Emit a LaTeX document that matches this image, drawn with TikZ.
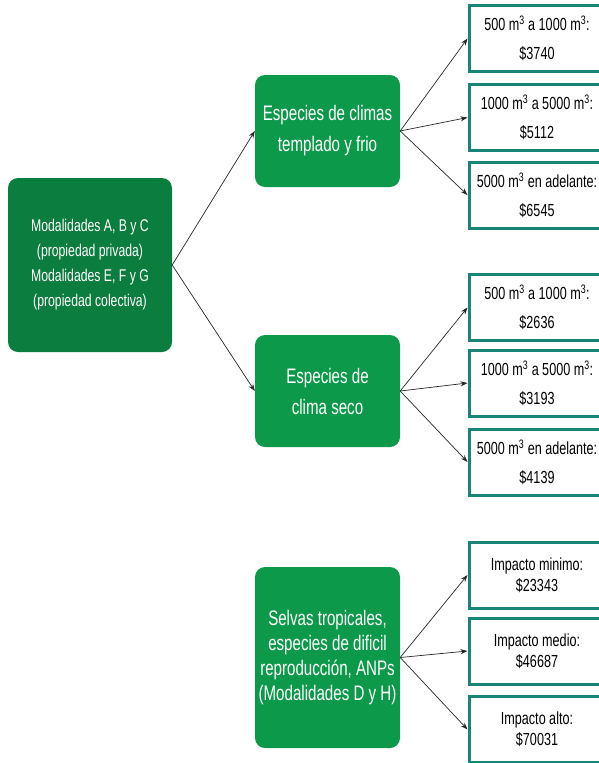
\documentclass[tikz,border=0pt]{standalone}
\usepackage{fontspec}
\setmainfont[FakeStretch=0.72]{Liberation Sans}
\usetikzlibrary{arrows.meta}

\definecolor{rootgreen}{HTML}{0B7D3E}
\definecolor{midgreen}{HTML}{0C9A4A}
\definecolor{leafteal}{HTML}{1A8478}

\newcommand{\mcub}{m\textsuperscript{3}}

\begin{document}
\begin{tikzpicture}[x=1pt, y=-1pt,
        rootbox/.style={fill=rootgreen, rounded corners=10pt, text=white, align=center,
            minimum width=164pt, minimum height=174pt, font=\fontsize{17}{25}\selectfont},
        midbox/.style={fill=midgreen, rounded corners=10pt, text=white, align=center,
            minimum width=145pt, font=\fontsize{21}{31}\selectfont},
        leafbox/.style={draw=leafteal, line width=3pt, fill=white, align=center,
            minimum width=136pt, minimum height=66pt, font=\fontsize{17.5}{29}\selectfont},
        link/.style={-{Stealth[length=7pt,width=5pt]}, line width=0.7pt, draw=black!85}]
        \useasboundingbox (0, 0) rectangle (599, 763);

        \node[rootbox] (root) at (90, 265) {Modalidades A, B y C\\(propiedad privada)\\Modalidades E, F y G\\(propiedad colectiva)};

        \node[midbox, minimum height=112pt] (temp) at (327.5, 131) {Especies de climas\\templado y frio};
        \node[midbox, minimum height=112pt] (seco) at (327.5, 391) {Especies de\\clima seco};
        \node[midbox, minimum height=181pt, font=\fontsize{21}{25}\selectfont] (selva) at (327.5, 657.5)
            {Selvas tropicales,\\especies de dificil\\reproducción, ANPs\\(Modalidades D y H)};

        \node[leafbox] (tempa) at (537, 38.5) {500 \mcub{} a 1000 \mcub:\\\$3740};
        \node[leafbox] (tempb) at (537, 117.5) {1000 \mcub{} a 5000 \mcub:\\\$5112};
        \node[leafbox] (tempc) at (537, 195) {5000 \mcub{} en adelante:\\\$6545};

        \node[leafbox] (secoa) at (537, 307.5) {500 \mcub{} a 1000 \mcub:\\\$2636};
        \node[leafbox] (secob) at (537, 383) {1000 \mcub{} a 5000 \mcub:\\\$3193};
        \node[leafbox] (secoc) at (537, 462) {5000 \mcub{} en adelante:\\\$4139};

        % bottom group has tighter lines
        \node[leafbox, font=\fontsize{17.5}{21}\selectfont] (selvaa) at (537, 575) {Impacto minimo:\\\$23343};
        \node[leafbox, font=\fontsize{17.5}{21}\selectfont] (selvab) at (537, 651) {Impacto medio:\\\$46687};
        \node[leafbox, font=\fontsize{17.5}{21}\selectfont] (selvac) at (537, 729.5) {Impacto alto:\\\$70031};

        \draw[link] (root.east) -- (temp.west);
        \draw[link] (root.east) -- (seco.west);

        \draw[link] (temp.east) -- (tempa.west);
        \draw[link] (temp.east) -- (tempb.west);
        \draw[link] (temp.east) -- (tempc.west);

        \draw[link] (seco.east) -- (secoa.west);
        \draw[link] (seco.east) -- (secob.west);
        \draw[link] (seco.east) -- (secoc.west);

        \draw[link] (selva.east) -- (selvaa.west);
        \draw[link] (selva.east) -- (selvab.west);
        \draw[link] (selva.east) -- (selvac.west);
    \end{tikzpicture}
\end{document}
